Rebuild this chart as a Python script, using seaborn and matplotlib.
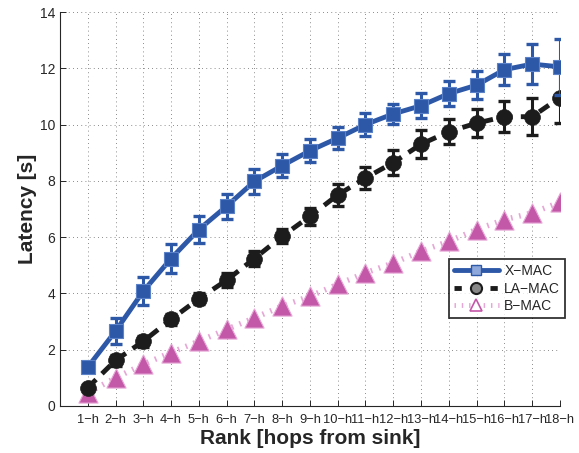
import matplotlib
matplotlib.use("Agg")
import matplotlib.pyplot as plt
from matplotlib.lines import Line2D
import seaborn as sns
import pandas as pd

ranks = list(range(1, 19))
rank_labels = [f"{r}\u2212h" for r in ranks]

xmac = [1.38, 2.66, 4.08, 5.24, 6.27, 7.10, 7.98, 8.54, 9.07, 9.52,
        10.00, 10.38, 10.67, 11.10, 11.40, 11.95, 12.15, 12.05]
xmac_err = [0.10, 0.45, 0.50, 0.50, 0.47, 0.45, 0.44, 0.40, 0.40, 0.40,
            0.40, 0.35, 0.45, 0.45, 0.50, 0.55, 0.70, 1.00]

lamac = [0.65, 1.62, 2.30, 3.08, 3.81, 4.47, 5.24, 6.03, 6.74, 7.50,
         8.10, 8.65, 9.30, 9.75, 10.05, 10.28, 10.28, 10.96]
lamac_err = [0.10, 0.20, 0.20, 0.20, 0.20, 0.25, 0.25, 0.25, 0.30, 0.40,
             0.40, 0.45, 0.50, 0.45, 0.50, 0.55, 0.65, 0.90]

bmac = [0.47, 1.00, 1.48, 1.90, 2.30, 2.72, 3.13, 3.55, 3.90, 4.32,
        4.73, 5.08, 5.50, 5.85, 6.27, 6.62, 6.86, 7.24]

BLUE = "#2d58a8"
BLACK = "#1c1c1c"
PINK = "#c458a8"
PINK_LIGHT = "#e6a6d6"

sns.set_style("ticks")
plt.rcParams["font.family"] = ["Liberation Sans", "DejaVu Sans"]
plt.rcParams["xtick.direction"] = "in"
plt.rcParams["ytick.direction"] = "in"

df = pd.DataFrame({"rank": ranks, "X-MAC": xmac, "LA-MAC": lamac, "B-MAC": bmac})

fig = plt.figure(figsize=(5.79, 4.53), dpi=100)
ax = fig.add_axes([0.1036, 0.1038, 0.8634, 0.8697])

# dotted grid
ax.grid(True, linestyle=(0, (1, 4)), color="#666666", linewidth=0.6)
ax.set_axisbelow(True)

# B-MAC (no error bars)
sns.lineplot(data=df, x="rank", y="B-MAC", ax=ax, color=PINK_LIGHT,
             linewidth=4, linestyle=(0, (0.3, 1.2)), zorder=2)
sns.scatterplot(data=df, x="rank", y="B-MAC", ax=ax, marker="^", s=190,
                color=PINK, edgecolor=PINK_LIGHT, linewidth=0.8, zorder=3)

# LA-MAC
ax.errorbar(ranks, lamac, yerr=lamac_err, fmt="none", ecolor=BLACK,
            elinewidth=2.2, capsize=4.5, capthick=2.4, zorder=4)
sns.lineplot(data=df, x="rank", y="LA-MAC", ax=ax, color=BLACK,
             linewidth=3.5, linestyle=(0, (2.4, 1.7)), zorder=4)
sns.scatterplot(data=df, x="rank", y="LA-MAC", ax=ax, marker="o", s=130,
                color=BLACK, edgecolor=BLACK, linewidth=0.5, zorder=5)

# X-MAC
ax.errorbar(ranks, xmac, yerr=xmac_err, fmt="none", ecolor=BLUE,
            elinewidth=2.2, capsize=4.5, capthick=2.4, zorder=6)
sns.lineplot(data=df, x="rank", y="X-MAC", ax=ax, color=BLUE,
             linewidth=3.5, zorder=6)
sns.scatterplot(data=df, x="rank", y="X-MAC", ax=ax, marker="s", s=110,
                color=BLUE, edgecolor="#5b82c8", linewidth=0.8, zorder=7)

ax.set_xlim(0, 18)
ax.set_ylim(0, 14)
ax.set_xticks(ranks)
ax.set_xticklabels(rank_labels, fontsize=9.3)
ax.set_yticks(range(0, 15, 2))
ax.tick_params(axis="y", labelsize=10, length=4, width=0.7)
ax.tick_params(axis="x", length=4, width=0.7, pad=6)
sns.despine(ax=ax, top=True, right=True)
ax.spines["left"].set_linewidth(0.8)
ax.spines["bottom"].set_linewidth(0.8)

ax.set_xlabel("Rank [hops from sink]", fontsize=15, fontweight="bold", labelpad=2)
ax.set_ylabel("Latency [s]", fontsize=15, fontweight="bold", labelpad=2)

handles = [
    Line2D([], [], color=BLUE, linewidth=3.5, marker="s", markersize=7,
           markerfacecolor="#8fa8dc", markeredgecolor=BLUE),
    Line2D([], [], color=BLACK, linewidth=3.5, linestyle=(0, (1.5, 2.2)),
           marker="o", markersize=8, markerfacecolor="#888888",
           markeredgecolor=BLACK, markeredgewidth=1.5),
    Line2D([], [], color=PINK_LIGHT, linewidth=3.5, linestyle=(0, (0.3, 1.2)),
           marker="^", markersize=9, markerfacecolor="white",
           markeredgecolor=PINK, markeredgewidth=1.2),
]
leg = ax.legend(handles, ["X\u2212MAC", "LA\u2212MAC", "B\u2212MAC"],
                loc="upper left", bbox_to_anchor=(0.765, 0.39), fontsize=10,
                frameon=True, fancybox=False, edgecolor="black",
                handlelength=3.2, borderpad=0.35, labelspacing=0.25,
                handletextpad=0.4)
leg.get_frame().set_linewidth(1.3)
leg.set_zorder(10)

fig.savefig("out.png", dpi=100, facecolor="white")
